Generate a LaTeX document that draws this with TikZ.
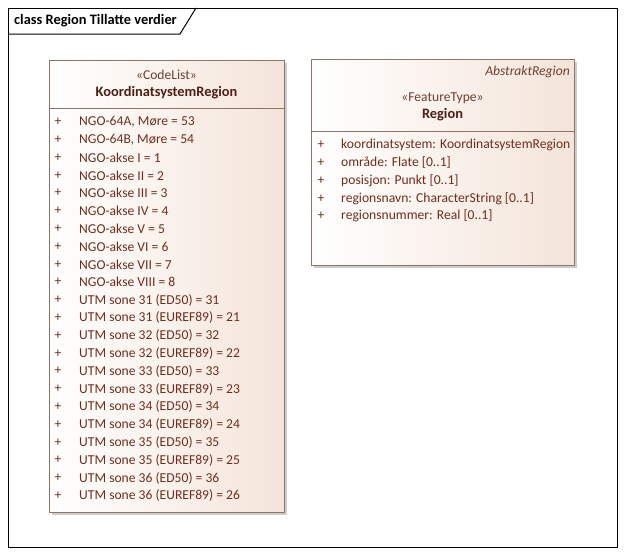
\documentclass[tikz,border=0pt]{standalone}
\usepackage{fontspec}
\setmainfont{Carlito}
\usetikzlibrary{positioning}
\definecolor{ealine}{HTML}{8E7469}
\definecolor{eatext}{HTML}{6E2E1E}
\definecolor{eafill}{HTML}{F4E4D9}
\definecolor{eashadow}{HTML}{CCCCCC}
\tikzset{klasse/.style={draw=ealine,line width=0.9pt,left color=white,right color=eafill},
  skygge/.style={fill=eashadow,draw=none},
  attr/.style={anchor=west,inner sep=0pt,text=eatext,font=\fontsize{13.6}{15}\selectfont},
  pluss/.style={anchor=center,inner sep=0pt,text=eatext,font=\fontsize{13.6}{15}\selectfont},
  stereo/.style={inner sep=0pt,text=eatext!80!gray,font=\fontsize{13.6}{15}\selectfont},
  navn/.style={inner sep=0pt,text=eatext!70!black,font=\fontsize{14.4}{16}\selectfont\bfseries}}

\begin{document}
\begin{tikzpicture}[x=1pt,y=-1pt]
    \useasboundingbox (0,0) rectangle (625,555);
    % ramme
    \draw[line width=1pt] (8,8) rectangle (617,547);
    \draw[line width=1pt] (8,34) -- (180,34) -- (196,8);
    \node[anchor=west,inner sep=0pt,font=\fontsize{14.4}{16}\selectfont\bfseries] (tittel) at (14,21) {class Region Tillatte verdier};

    % KoordinatsystemRegion
    \fill[skygge] (52,63) rectangle (287,515);
    \draw[klasse] (49,60) rectangle (284,512);
    \draw[ealine,line width=0.9pt] (49,108) -- (284,108);
    \node[stereo] (kStereo) at (166.5,75) {«CodeList»};
    \node[navn] (kNavn) at (166.5,93) {KoordinatsystemRegion};
    \foreach \t [count=\i from 0] in {NGO-64A{,} Møre = 53, NGO-64B{,} Møre = 54,
        NGO-akse I = 1, NGO-akse II = 2, NGO-akse III = 3, NGO-akse IV = 4,
        NGO-akse V = 5, NGO-akse VI = 6, NGO-akse VII = 7, NGO-akse VIII = 8,
        UTM sone 31 (ED50) = 31, UTM sone 31 (EUREF89) = 21,
        UTM sone 32 (ED50) = 32, UTM sone 32 (EUREF89) = 22,
        UTM sone 33 (ED50) = 33, UTM sone 33 (EUREF89) = 23,
        UTM sone 34 (ED50) = 34, UTM sone 34 (EUREF89) = 24,
        UTM sone 35 (ED50) = 35, UTM sone 35 (EUREF89) = 25,
        UTM sone 36 (ED50) = 36, UTM sone 36 (EUREF89) = 26}{
      \node[pluss] (kp\i) at (58,122+17.8*\i) {+};
      \node[attr] (ka\i) at (79,122+17.8*\i) {\t};
    }

    % Region
    \fill[skygge] (314,62) rectangle (577,268);
    \draw[klasse] (311,59) rectangle (574,265);
    \draw[ealine,line width=0.9pt] (311,131) -- (574,131);
    \node[anchor=east,inner sep=0pt,text=eatext!80!gray,font=\fontsize{13.6}{15}\selectfont\itshape] (rAbstrakt) at (570,72) {AbstraktRegion};
    \node[stereo] (rStereo) at (442.5,98) {«FeatureType»};
    \node[navn] (rNavn) at (442.5,115) {Region};
    \foreach \t [count=\i from 0] in {koordinatsystem: KoordinatsystemRegion,
        område: Flate [0..1], posisjon: Punkt [0..1],
        regionsnavn: CharacterString [0..1], regionsnummer: Real [0..1]}{
      \node[pluss] (rp\i) at (321,145+17.8*\i) {+};
      \node[attr] (ra\i) at (341,145+17.8*\i) {\t};
    }
\end{tikzpicture}
\end{document}
